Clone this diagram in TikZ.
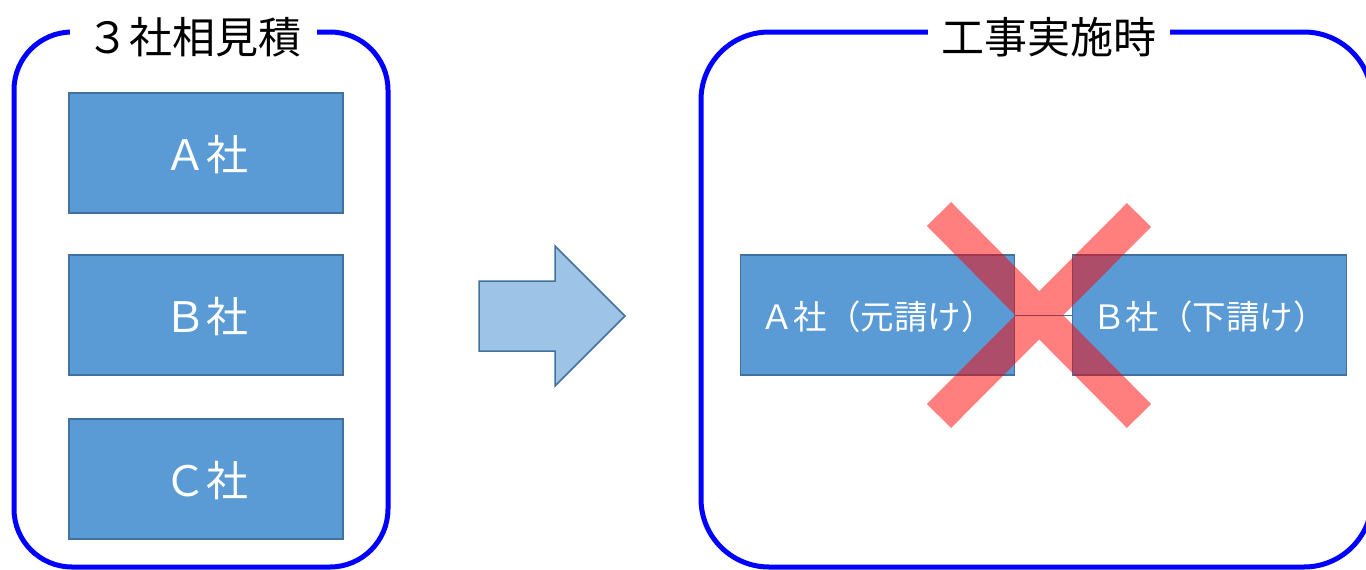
\documentclass[tikz,border=0pt]{standalone}
\usepackage{fontspec}
\setmainfont{Noto Sans CJK JP}
\definecolor{boxfill}{HTML}{5B9BD5}
\definecolor{boxline}{HTML}{41719C}
\definecolor{arrowfill}{HTML}{9DC3E6}
\definecolor{framecol}{RGB}{0,0,255}
\begin{document}
\begin{tikzpicture}[x=1pt,y=-1pt,
  frame/.style={draw=framecol, line width=5pt},
  company/.style={draw=boxline, fill=boxfill, line width=1.5pt, minimum width=274pt,
    minimum height=120pt, text=white, inner sep=0pt, font=\fontsize{42}{44}\selectfont},
  firm/.style={company, font=\fontsize{33.5}{36}\selectfont},
  label/.style={text=white, inner sep=0pt},
  title/.style={fill=white, inner sep=0pt, minimum height=20pt, text=black,
    font=\fontsize{43}{46}\selectfont},
  conn/.style={draw=boxline, line width=1pt},
  cross/.style={draw=red, line width=34pt, line cap=butt}]
\useasboundingbox (0,0) rectangle (1366,570);
\clip (0,0) rectangle (1366,570);
% frames
\draw[frame, rounded corners=58pt] (14,32) rectangle (388,567);
\draw[frame, rounded corners=68pt] (701,32) rectangle (1372,567);
\node[title, minimum width=247pt] (t1) at (193.5,37) {３社相見積};
\node[title, minimum width=242pt] (t2) at (1049,37) {工事実施時};
% left boxes
\node[company, text depth=-6pt] (a) at (206,153) {Ａ社};
\node[company, text depth=-6pt] (b) at (206,315) {Ｂ社};
\node[company, text depth=-6pt] (c) at (206,479) {Ｃ社};
% big arrow
\draw[draw=boxline, fill=arrowfill, line width=1.5pt]
  (479,281) -- (555,281) -- (555,246) -- (625,316) -- (555,386) -- (555,351) -- (479,351) -- cycle;
% right boxes
\node[firm, text depth=-4pt] (ra) at (877.5,315) {Ａ社（元請け）};
\node[firm, text depth=-4pt] (rb) at (1209.5,315) {Ｂ社（下請け）};
\draw[conn] (ra.east) -- (rb.west);
% cross
\coordinate (x1) at (939,214);
\coordinate (x2) at (1139,416);
\coordinate (x3) at (1139,215);
\coordinate (x4) at (939,416);
\begin{scope}[transparency group, opacity=0.5]
\draw[cross] (x1) -- (x2);
\draw[cross] (x3) -- (x4);
\end{scope}
\end{tikzpicture}
\end{document}
